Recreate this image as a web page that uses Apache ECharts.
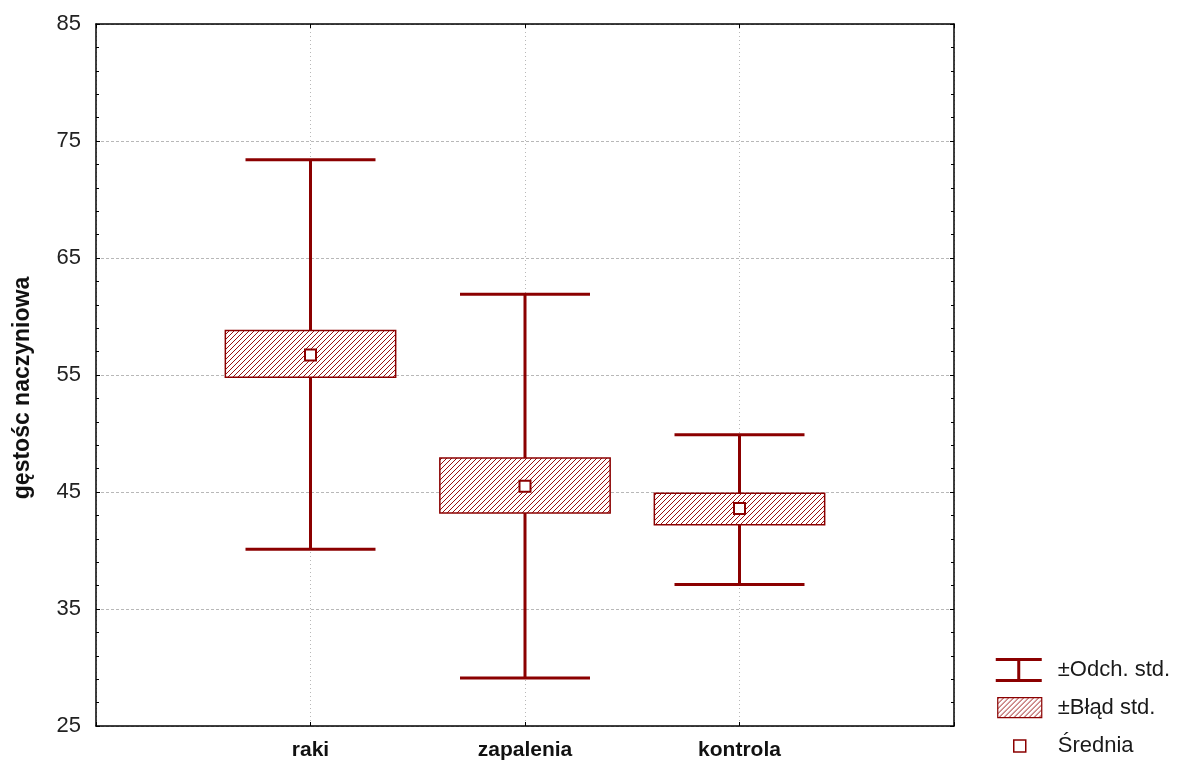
<!DOCTYPE html>
<html>
<head>
<meta charset="utf-8">
<script src="https://cdn.jsdelivr.net/npm/echarts@6/dist/echarts.min.js"></script>
<style>
  html, body { margin: 0; padding: 0; background: #fff; }
  #chart { width: 1183px; height: 764px; }
</style>
</head>
<body>
<div id="chart"></div>
<script>
// data
const categories = ['raki', 'zapalenia', 'kontrola'];
const means = [56.7, 45.5, 43.6];
const seLow = [54.8, 43.2, 42.2];
const seHigh = [58.8, 47.9, 44.9];
const sdLow = [40.1, 29.1, 37.1];
const sdHigh = [73.4, 61.9, 49.9];
const yTicks = [25, 85, 10];

const RED = '#8b0000';
const FONT = '"Liberation Sans", Arial, sans-serif';

// hatch pattern for the std. error boxes
const makeHatch = () => {
    const n = 5;
    const c = document.createElement('canvas');
    c.width = n;
    c.height = n;
    const ctx = c.getContext('2d');
    ctx.fillStyle = '#fff';
    ctx.fillRect(0, 0, n, n);
    ctx.strokeStyle = '#9a1010';
    ctx.lineWidth = 1;
    ctx.beginPath();
    ctx.moveTo(-n, n); ctx.lineTo(n, -n);
    ctx.moveTo(0, n); ctx.lineTo(n, 0);
    ctx.moveTo(0, 2 * n); ctx.lineTo(2 * n, 0);
    ctx.stroke();
    return c;
};
const hatch = {image: makeHatch(), repeat: 'repeat'};

const sdData = categories.map((c, i) => [i + 1, sdLow[i], sdHigh[i]]);
const seData = categories.map((c, i) => [i + 1, seLow[i], seHigh[i]]);
const meanData = categories.map((c, i) => [i + 1, means[i]]);

const chart = echarts.init(document.getElementById('chart'));

const frameY = {
    type: 'value',
    min: yTicks[0],
    max: yTicks[1],
    interval: yTicks[2],
    axisLine: {show: true, onZero: false, lineStyle: {color: '#000', width: 1.5}},
    axisTick: {inside: true, length: 4, lineStyle: {color: '#000'}},
    minorTick: {show: true, splitNumber: 5, length: 3, lineStyle: {color: '#000'}}
};

const option = {
    backgroundColor: '#fff',
    animation: false,
    grid: {left: 96, top: 24, right: 229, bottom: 38},
    legend: {
        orient: 'vertical',
        left: 995,
        top: 658,
        padding: 0,
        itemWidth: 57,
        itemHeight: 24,
        itemGap: 13,
        selectedMode: false,
        textStyle: {fontFamily: FONT, fontSize: 22, color: '#1a1a1a'},
        data: [
            {
                name: '±Odch. std.',
                icon: 'path://M0,0M57,24M0,0H46V3H0Z M21.5,3H24.5V21H21.5Z M0,21H46V24H0Z',
                itemStyle: {color: RED, borderWidth: 0}
            },
            {
                name: '±Błąd std.',
                icon: 'path://M0,0M57,24M2,2H46V22H2Z',
                itemStyle: {color: hatch, borderColor: RED, borderWidth: 1.2}
            },
            {
                name: 'Średnia',
                icon: 'path://M0,0M57,24M18,6H30V18H18Z',
                itemStyle: {color: '#fff', borderColor: RED, borderWidth: 1.5}
            }
        ]
    },
    xAxis: [
        {
            type: 'value',
            min: 0,
            max: 4,
            interval: 1,
            axisLine: {onZero: false, lineStyle: {color: '#000', width: 1.5}},
            axisTick: {inside: true, length: 4, lineStyle: {color: '#000'}},
            splitLine: {show: true, lineStyle: {color: '#b8b8b8', type: [1, 3]}},
            axisLabel: {
                margin: 14,
                fontFamily: FONT,
                fontSize: 21,
                fontWeight: 'bold',
                color: '#111',
                formatter: v => categories[v - 1] || ''
            }
        },
        {
            type: 'value',
            position: 'top',
            min: 0,
            max: 4,
            interval: 1,
            axisLine: {onZero: false, lineStyle: {color: '#000', width: 1.5}},
            axisTick: {inside: true, length: 4, lineStyle: {color: '#000'}},
            splitLine: {show: false},
            axisLabel: {show: false}
        }
    ],
    yAxis: [
        {
            ...frameY,
            name: 'gęstośc naczyniowa',
            nameLocation: 'middle',
            nameGap: 62,
            nameTextStyle: {
                fontFamily: FONT, fontSize: 23, fontWeight: 'bold', color: '#111',
                padding: [0, 26, 0, 0]
            },
            splitLine: {show: true, lineStyle: {color: '#b8b8b8', type: [3, 2]}},
            axisLabel: {margin: 15, fontFamily: FONT, fontSize: 22, color: '#222'}
        },
        {
            ...frameY,
            position: 'right',
            splitLine: {show: false},
            axisLabel: {show: false}
        }
    ],
    series: [
        {
            name: '±Odch. std.',
            type: 'custom',
            data: sdData,
            itemStyle: {color: RED},
            renderItem: (params, api) => {
                const x = api.value(0);
                const lo = api.coord([x, api.value(1)]);
                const hi = api.coord([x, api.value(2)]);
                const half = api.size([0.303, 0])[0];
                const style = {stroke: RED, lineWidth: 3, fill: null};
                return {
                    type: 'group',
                    children: [
                        {type: 'line', shape: {x1: lo[0], y1: lo[1], x2: hi[0], y2: hi[1]}, style},
                        {type: 'line', shape: {x1: hi[0] - half, y1: hi[1], x2: hi[0] + half, y2: hi[1]}, style},
                        {type: 'line', shape: {x1: lo[0] - half, y1: lo[1], x2: lo[0] + half, y2: lo[1]}, style}
                    ]
                };
            }
        },
        {
            name: '±Błąd std.',
            type: 'custom',
            data: seData,
            itemStyle: {color: hatch},
            renderItem: (params, api) => {
                const x = api.value(0);
                const lo = api.coord([x, api.value(1)]);
                const hi = api.coord([x, api.value(2)]);
                const half = api.size([0.397, 0])[0];
                return {
                    type: 'rect',
                    shape: {x: lo[0] - half, y: hi[1], width: half * 2, height: lo[1] - hi[1]},
                    style: {fill: hatch, stroke: RED, lineWidth: 1.5}
                };
            }
        },
        {
            name: 'Średnia',
            type: 'scatter',
            data: meanData,
            symbol: 'rect',
            symbolSize: 11,
            itemStyle: {color: '#fff', borderColor: RED, borderWidth: 2, opacity: 1},
            z: 5
        }
    ]
};

chart.setOption(option);
</script>
</body>
</html>
